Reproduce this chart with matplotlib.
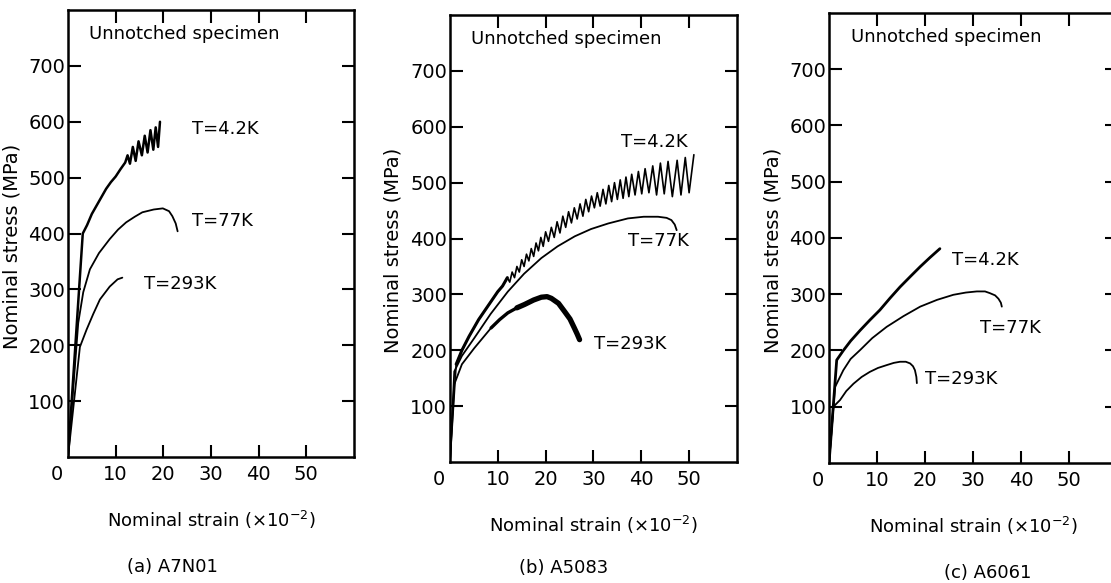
import matplotlib.pyplot as plt

plt.rcParams['font.family'] = ['DejaVu Sans']

# Dados (deformação x10^-2, tensão MPa)
# (a) A7N01
a_42_x = [0, 3.1, 4, 5, 6, 7, 8, 9, 10, 11, 12, 12.5, 13.0, 13.6, 14.2, 14.8, 15.5,
          16.1, 16.7, 17.3, 17.9, 18.4, 18.9, 19.3]
a_42_y = [0, 400, 415, 435, 450, 465, 480, 492, 502, 515, 527, 540, 525, 555, 530,
          565, 540, 575, 545, 585, 550, 590, 555, 600]
a_77_x = [0, 2.15, 3.2, 4.6, 6.5, 8.75, 10.5, 12.2, 14, 15.6, 18, 19.9, 21.2, 21.9, 22.6, 23.0]
a_77_y = [0, 240, 295, 336, 365, 390, 407, 420, 430, 438, 443, 445, 440, 431, 418, 404]
a_293_x = [0, 2.5, 3.9, 5.3, 6.7, 8.75, 10.4, 11.4]
a_293_y = [0, 197, 228, 256, 282, 305, 318, 321]

# (b) A5083
b_42_x = [0, 1.3, 2.5, 4, 6, 8, 10, 11, 12, 12.5, 13, 13.5, 14, 14.5, 15, 15.5, 16, 16.5,
          17, 17.5, 18, 18.5, 19, 19.5, 20, 20.6, 21.2, 21.8, 22.4, 23, 23.6, 24.2, 24.8,
          25.4, 26, 26.6, 27.2, 27.8, 28.4, 29, 29.6, 30.2, 30.8, 31.4, 32, 32.6, 33.2,
          33.8, 34.4, 35, 35.6, 36.2, 36.8, 37.4, 38, 38.7, 39.4, 40.1, 40.8, 41.6, 42.4,
          43.2, 44, 44.8, 45.6, 46.5, 47.5, 48.3, 49.2, 50, 51]
b_42_y = [0, 175, 200, 225, 255, 280, 305, 315, 330, 322, 340, 330, 350, 340, 362, 350,
          372, 360, 382, 368, 392, 378, 402, 386, 412, 395, 420, 402, 430, 410, 440, 420,
          448, 428, 455, 435, 462, 440, 470, 448, 476, 455, 482, 458, 488, 462, 495, 466,
          500, 470, 505, 472, 510, 475, 515, 478, 520, 480, 525, 482, 530, 478, 535, 480,
          538, 475, 540, 478, 545, 482, 550]
b_77_x = [0, 0.9, 2.5, 5.1, 8.5, 12.1, 15.5, 19.1, 22.5, 26.1, 29.5, 33.1, 37.2, 40.5,
          43.5, 45.3, 46.3, 47.0, 47.4]
b_77_y = [0, 162, 190, 222, 265, 305, 337, 365, 386, 404, 417, 427, 436, 439, 439, 437,
          433, 425, 415]
b_293_x = [0, 0.9, 2.5, 5.1, 8.6]
b_293_y = [0, 139, 175, 204, 240]
b_293_band_x = [8.6, 10.4, 12.1, 14, 15.6, 17.5, 19.1, 20.3, 21.2, 22.7, 24, 25.1, 26, 26.6, 27.1]
b_293_band_y = [240, 255, 267, 276, 282, 290, 295, 296, 293, 284, 269, 256, 240, 229, 219]

# (c) A6061
c_42_x = [0, 1.6, 2.98, 4.5, 6.5, 8.5, 10.6, 12.7, 14.8, 17, 19, 21, 23.1]
c_42_y = [0, 183, 200, 217, 236, 254, 272, 293, 313, 332, 349, 365, 381]
c_77_x = [0, 1.25, 2.98, 4.5, 6.5, 9, 12.0, 15.5, 19, 22.5, 25.9, 28.5, 30.8, 32.5, 33.5,
          34.6, 35.3, 35.8, 36.0]
c_77_y = [0, 135, 165, 185, 201, 222, 242, 261, 278, 290, 299, 303, 305, 305, 302, 298,
          292, 285, 278]
c_293_x = [0, 0.9, 2.3, 3.6, 5.1, 6.8, 8.5, 10.2, 12, 13.5, 14.8, 16, 16.9, 17.5, 17.9, 18.2, 18.3]
c_293_y = [0, 100, 112, 128, 141, 153, 162, 169, 174, 178, 180, 180, 177, 172, 165, 153, 142]

yticks = [100, 200, 300, 400, 500, 600, 700]
xticks = [10, 20, 30, 40, 50]
captions = ["(a) A7N01", "(b) A5083", "(c) A6061"]

fig = plt.figure(figsize=(11.11, 5.83), dpi=100)

rects = [
    [0.0612, 0.2161, 0.2574, 0.7667],
    [0.4050, 0.2075, 0.2583, 0.7667],
    [0.7462, 0.2058, 0.2592, 0.7720],
]
axes = [fig.add_axes(r) for r in rects]

for ax in axes:
    ax.set_xlim(0, 60)
    ax.set_ylim(0, 800)
    ax.set_xticks(xticks)
    ax.set_yticks(yticks)
    ax.tick_params(axis='both', labelsize=14, width=1.5, color='black')
    ax.tick_params(axis='x', direction='in', length=9, top=True, pad=6)
    ax.tick_params(axis='y', direction='in', length=9, right=True, pad=2)
    for s in ax.spines.values():
        s.set_linewidth(1.8)
    ax.set_xlabel(r"Nominal strain ($\times$10$^{-2}$)", fontsize=13)
    ax.set_ylabel("Nominal stress (MPa)", fontsize=14)
    ax.annotate("0", xy=(0, 0), xytext=(-8, -6), textcoords='offset points',
                ha='center', va='top', fontsize=14)
    ax.text(4.5, 757, "Unnotched specimen", fontsize=13, va='center')

axes[0].yaxis.set_label_coords(-0.163, 0.472)
axes[1].yaxis.set_label_coords(-0.167, 0.474)
axes[2].yaxis.set_label_coords(-0.163, 0.473)
for ax in axes:
    ax.xaxis.set_label_coords(0.5, -0.115)

kw = dict(color='black', lw=1.3, solid_capstyle='round', solid_joinstyle='round')

# (a)
ax = axes[0]
ax.plot(a_42_x, a_42_y, **dict(kw, lw=1.8))
ax.plot(a_77_x, a_77_y, **kw)
ax.plot(a_293_x, a_293_y, **kw)
ax.text(26, 587, "T=4.2K", fontsize=13, va='center')
ax.text(26, 422, "T=77K", fontsize=13, va='center')
ax.text(16, 309, "T=293K", fontsize=13, va='center')

# (b)
ax = axes[1]
ax.plot(b_42_x, b_42_y, **dict(kw, lw=1.2))
ax.plot(b_42_x[1:9], b_42_y[1:9], **dict(kw, lw=2.2))  # trecho inicial mais grosso
ax.plot(b_77_x, b_77_y, **kw)
ax.plot(b_293_x, b_293_y, **kw)
ax.plot(b_293_band_x[:4], b_293_band_y[:4], **dict(kw, lw=2.4))
ax.plot(b_293_band_x[3:], b_293_band_y[3:], **dict(kw, lw=3.8))
ax.text(35.8, 573, "T=4.2K", fontsize=13, va='center')
ax.text(37.3, 395, "T=77K", fontsize=13, va='center')
ax.text(30.2, 212, "T=293K", fontsize=13, va='center')

# (c)
ax = axes[2]
ax.plot(c_42_x, c_42_y, **dict(kw, lw=2.0))
ax.plot(c_77_x, c_77_y, **kw)
ax.plot(c_293_x, c_293_y, **kw)
ax.text(25.6, 360, "T=4.2K", fontsize=13, va='center')
ax.text(31.5, 240, "T=77K", fontsize=13, va='center')
ax.text(20, 149, "T=293K", fontsize=13, va='center')

for (cx, cy), cap in zip([(172, 567), (564, 568), (988, 573)], captions):
    fig.text(cx / 1111, 1 - cy / 583, cap, ha='center', va='center', fontsize=13)

plt.savefig("out.png", dpi=100)
plt.close()
